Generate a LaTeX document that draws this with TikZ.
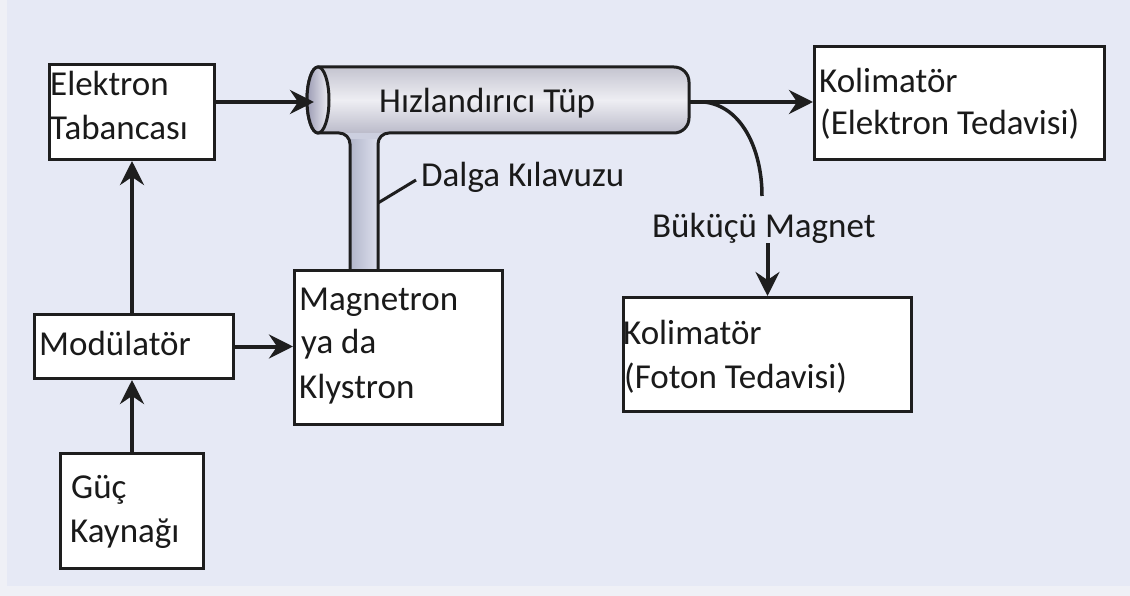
\documentclass[tikz,border=0pt]{standalone}
\usepackage{fontspec}
\setmainfont{Carlito}
\usetikzlibrary{arrows.meta,calc}
\definecolor{bgc}{HTML}{E6E9F5}
\definecolor{bgl}{HTML}{EFF0F6}
\definecolor{linec}{HTML}{1E1E1E}
\definecolor{txtc}{HTML}{1A1A1A}
\definecolor{tubetop}{HTML}{C4C4D0}
\definecolor{tubemid}{HTML}{EEEEF3}
\definecolor{tubebot}{HTML}{BBBBCA}
\definecolor{tubebase}{HTML}{CCCFDF}
\definecolor{wgleft}{HTML}{B2B6CA}
\definecolor{wgright}{HTML}{DDE0EE}
\definecolor{capdark}{HTML}{9C9CB4}
\definecolor{caplight}{HTML}{EEEEF4}
\begin{document}
\begin{tikzpicture}[x=1pt,y=-1pt,
  box/.style={draw=linec, line width=3pt, fill=white, inner sep=0pt, anchor=north west},
  lbl/.style={font=\fontsize{35pt}{42pt}\selectfont, text=txtc, inner sep=0pt, anchor=base west},
  arr/.style={draw=linec, line width=4pt, -{Stealth[length=24pt,width=24pt,inset=8pt]}},
  conn/.style={draw=linec, line width=3.5pt},
  tubeline/.style={draw=linec, line width=3pt, line join=round}]
\useasboundingbox (0,0) rectangle (1130,596);
\fill[bgc] (0,0) rectangle (1130,596);
\fill[bgl] (0,0) rectangle (7,596);
\fill[bgl] (0,586) rectangle (1130,596);

% accelerator tube with waveguide (T shape)
\fill[tubebase] (318,67) -- (674,67) .. controls (682.3,67) and (689,73.7) .. (689,82) -- (689,118) .. controls (689,126.3) and (682.3,133) .. (674,133) -- (389,133) .. controls (382.9,133) and (378,137.9) .. (378,144) -- (378,275) -- (350,275) -- (350,144) .. controls (350,137.9) and (345.1,133) .. (339,133) -- (318,133) .. controls (311.9,133) and (307,118.2) .. (307,100) .. controls (307,81.8) and (311.9,67) .. (318,67) -- cycle;
\shade[top color=tubetop, bottom color=tubebot, middle color=tubemid] (318,67) -- (674,67) .. controls (682.3,67) and (689,73.7) .. (689,82) -- (689,118) .. controls (689,126.3) and (682.3,133) .. (674,133) -- (318,133) .. controls (311.9,133) and (307,118.2) .. (307,100) .. controls (307,81.8) and (311.9,67) .. (318,67) -- cycle;
\shade[left color=wgleft, right color=wgright] (350,140) rectangle (378,275);
\path[tubeline] (318,67) -- (674,67) .. controls (682.3,67) and (689,73.7) .. (689,82) -- (689,118) .. controls (689,126.3) and (682.3,133) .. (674,133) -- (389,133) .. controls (382.9,133) and (378,137.9) .. (378,144) -- (378,275) -- (350,275) -- (350,144) .. controls (350,137.9) and (345.1,133) .. (339,133) -- (318,133) .. controls (311.9,133) and (307,118.2) .. (307,100) .. controls (307,81.8) and (311.9,67) .. (318,67) -- cycle;
\shade[left color=capdark, right color=caplight, draw=linec, line width=3pt] (318,100) ellipse [x radius=11, y radius=33];
\node[lbl] (tube) at (379,113) {Hızlandırıcı Tüp};

% boxes
\node[box, minimum width=165pt, minimum height=95pt] (tab) at (48,63) {};
\node[box, minimum width=199pt, minimum height=64pt] (mod) at (33,313) {};
\node[box, minimum width=143pt, minimum height=115pt] (guc) at (59,452) {};
\node[box, minimum width=208pt, minimum height=154pt] (mag) at (293,269) {};
\node[box, minimum width=290pt, minimum height=113pt] (kolE) at (813,45) {};
\node[box, minimum width=288pt, minimum height=114pt] (kolF) at (622,296) {};

% box texts
\node[lbl] (tab1) at (50,96) {Elektron};
\node[lbl] (tab2) at (50,140) {Tabancası};
\node[lbl] (mod1) at (39,355) {Modülatör};
\node[lbl] (guc1) at (71,498) {Güç};
\node[lbl] (guc2) at (70,542) {Kaynağı};
\node[lbl] (mag1) at (299,310) {Magnetron};
\node[lbl] (mag2) at (301,353) {ya da};
\node[lbl] (mag3) at (299,398) {Klystron};
\node[lbl] (kolE1) at (819,93) {Kolimatör};
\node[lbl] (kolE2) at (820,135) {(Elektron Tedavisi)};
\node[lbl] (kolF1) at (623,344) {Kolimatör};
\node[lbl] (kolF2) at (624,388) {(Foton Tedavisi)};
\node[lbl] (dalga) at (421,187) {Dalga Kılavuzu};
\node[lbl] (buk) at (652,237) {Büküçü Magnet};

% connectors
\coordinate (tubeL) at (314,102);
\coordinate (tubeR) at (689,102);
\coordinate (bendS) at (704,102);
\coordinate (bendE) at (762,196);
\coordinate (wgpt) at (378,203);
\coordinate (dalgaend) at (416,180);
\draw[arr] (tab.east |- tubeL) -- (tubeL);
\draw[arr] (tubeR) -- (kolE.west |- tubeR);
\draw[conn] (bendS) .. controls (742,106) and (762,150) .. (bendE);
\draw[arr] (kolF.north |- buk.south) -- (kolF.north);
\draw[arr] (mod.north -| tab.south) -- (tab.south);
\draw[arr] (guc.north) -- (guc.north |- mod.south);
\draw[arr] (mod.east) -- (mag.west |- mod.east);
\draw[line width=3pt, draw=linec] (wgpt) -- (dalgaend);
\end{tikzpicture}
\end{document}
